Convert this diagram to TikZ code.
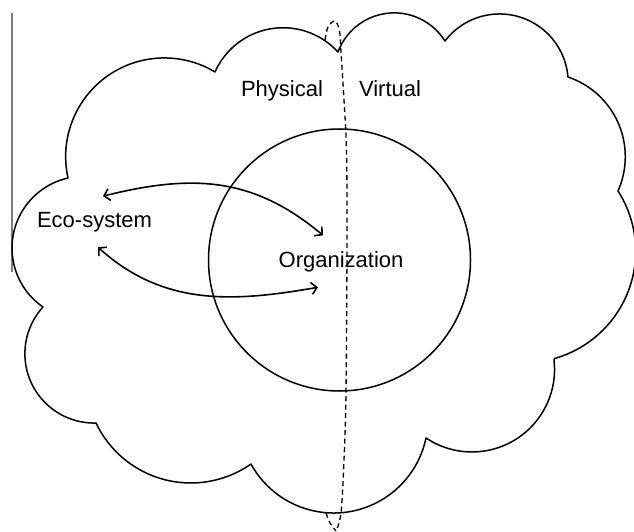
\documentclass[tikz,border=0pt]{standalone}
\usepackage{fontspec}
\setmainfont{Liberation Sans}
\usetikzlibrary{arrows.meta}
\definecolor{edgegray}{RGB}{125,125,125}
\begin{document}
\begin{tikzpicture}[x=1pt,y=1pt,
  outline/.style={line width=1.5pt, line join=round},
  divider/.style={line width=1.3pt, dash pattern=on 5pt off 3.5pt},
  txt/.style={font=\fontsize{22}{26}\selectfont, inner xsep=0pt, inner ysep=15.5pt},
  flow/.style={line width=1.6pt,
    {Straight Barb[length=5.5pt,width=12pt]}-{Straight Barb[length=5.5pt,width=12pt]}}
]
\useasboundingbox (0,0) rectangle (634,531);

% thin rule on the left
\coordinate (ruletop) at (12,518);
\coordinate (rulebot) at (12,259);
\draw[edgegray, line width=1.5pt] (ruletop) -- (rulebot);

% cusps where the cloud's bumps meet
\coordinate (cB) at (68,353);
\coordinate (cA) at (215,459);
\coordinate (cC) at (338,479);
\coordinate (cD) at (445,490);
\coordinate (cE) at (568,454);
\coordinate (cF) at (618,340);
\coordinate (cG) at (554,171);
\coordinate (cH) at (426,93);
\coordinate (cK) at (251,67);
\coordinate (cJ) at (96,108);
\coordinate (cI) at (43,224);

% cloud outline: one circular arc per bump
\draw[outline, fill=white] (cB) arc[start angle=192.5, end angle=59.1, radius=98.7pt]
  -- (cA) arc[start angle=156.1, end angle=42.4, radius=74.4pt]
  -- (cC) arc[start angle=159.7, end angle=32.0, radius=59.9pt]
  -- (cD) arc[start angle=142.7, end angle=4.7, radius=68.6pt]
  -- (cE) arc[start angle=71.4, end angle=-24.0, radius=84.1pt]
  -- (cF) arc[start angle=32.7, end angle=-74.2, radius=111.5pt]
  -- (cG) arc[start angle=6.5, end angle=-123.8, radius=82.6pt]
  -- (cH) arc[start angle=-11.8, end angle=-151.3, radius=94.3pt]
  -- (cK) arc[start angle=-55.0, end angle=-154.7, radius=104.9pt]
  -- (cJ) arc[start angle=-88.5, end angle=-222.4, radius=69.3pt]
  -- (cI) arc[start angle=235.4, end angle=102.6, radius=71.7pt]
  -- cycle;

% organization boundary
\node[circle, draw, outline, minimum size=262pt, inner sep=0pt] (boundary) at (339.5,271) {};

% physical / virtual divide
\draw[divider] plot[smooth, tension=0.55] coordinates {
  (325,491) (328,504) (335,510) (339.5,500) (341,479) (344,431)
  (346.5,380) (347,291) (346,139) (344,71) (341,18) (336,0)};
\draw[divider] plot[smooth, tension=0.55] coordinates {(326,18) (330,8) (336,0)};

% labels
\node[txt, anchor=base] (phys) at (282,434) {Physical};
\node[txt, anchor=base] (virt) at (390,434) {Virtual};
\node[txt, anchor=base] (eco) at (94.5,304) {Eco-system};
\node[txt, anchor=base] (org) at (341,264) {Organization};

% exchanges between eco-system and organization
\draw[flow] ([xshift=8.5pt]eco.north) to[out=14, in=140, looseness=1.05] ([xshift=-18pt]org.north);
\draw[flow] ([xshift=3.5pt]eco.south) to[out=-42, in=190] ([xshift=-23pt]org.south);
\end{tikzpicture}
\end{document}
